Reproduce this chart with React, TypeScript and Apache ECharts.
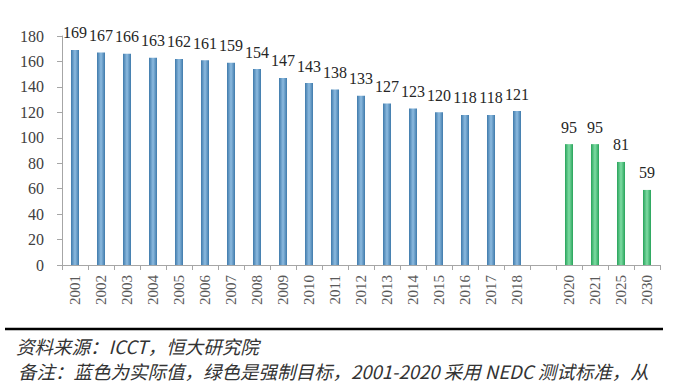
import React, { useEffect, useRef } from "react";
import * as echarts from "echarts";

const actualYears = ["2001","2002","2003","2004","2005","2006","2007","2008","2009","2010","2011","2012","2013","2014","2015","2016","2017","2018"];
const actualValues = [169,167,166,163,162,161,159,154,147,143,138,133,127,123,120,118,118,121];
const targetYears = ["2020","2021","2025","2030"];
const targetValues = [95,95,81,59];
const yTicks = { min: 0, max: 180, interval: 20 };
const sourceText = "资料来源：ICCT，恒大研究院";
const noteText = "备注：蓝色为实际值，绿色是强制目标，2001-2020 采用 NEDC 测试标准，从";

const SERIF = "'Liberation Serif', 'DejaVu Serif', serif";

const blueGrad = new echarts.graphic.LinearGradient(0, 0, 1, 0, [
  { offset: 0, color: "#3f7aab" },
  { offset: 0.5, color: "#8dbbe0" },
  { offset: 1, color: "#3f7aab" },
]);
const greenGrad = new echarts.graphic.LinearGradient(0, 0, 1, 0, [
  { offset: 0, color: "#27a35a" },
  { offset: 0.5, color: "#7fdca4" },
  { offset: 1, color: "#27a35a" },
]);

export default function App() {
  const ref = useRef<HTMLDivElement>(null);
  useEffect(() => {
    if (!ref.current) return;
    const chart = echarts.init(ref.current, null, { renderer: "svg" });
    const categories = [...actualYears, "", ...targetYears];
    const data: any[] = [
      ...actualValues.map((v) => ({ value: v, itemStyle: { color: blueGrad } })),
      { value: "-", label: { show: false } },
      ...targetValues.map((v) => ({ value: v, itemStyle: { color: greenGrad } })),
    ];
    chart.setOption({
      animation: false,
      backgroundColor: "#ffffff",
      grid: { left: 62, right: 13, top: 36, bottom: 121, containLabel: false },
      xAxis: {
        type: "category",
        data: categories,
        axisLine: { lineStyle: { color: "#a6a6a6", width: 1 } },
        axisTick: { show: true, length: 5, lineStyle: { color: "#a6a6a6" } },
        axisLabel: {
          rotate: 90,
          interval: 0,
          margin: 10,
          fontFamily: SERIF,
          fontSize: 15,
          color: "#595959",
        },
      },
      yAxis: {
        type: "value",
        min: yTicks.min,
        max: yTicks.max,
        interval: yTicks.interval,
        splitLine: { show: false },
        axisLine: { show: true, lineStyle: { color: "#a6a6a6", width: 1 } },
        axisTick: { show: true, length: 5, lineStyle: { color: "#a6a6a6" } },
        axisLabel: {
          margin: 18,
          fontFamily: SERIF,
          fontSize: 16,
          color: "#404040",
        },
      },
      series: [
        {
          type: "bar",
          data,
          barWidth: 8,
          label: {
            show: true,
            position: "top",
            distance: 9,
            fontFamily: SERIF,
            fontSize: 16,
            color: "#262626",
          },
        },
      ],
      graphic: [
        {
          type: "line",
          shape: { x1: 5, y1: 329, x2: 663, y2: 329 },
          style: { stroke: "#000000", lineWidth: 2.5 },
        },
        {
          type: "text",
          x: 16,
          y: 346,
          style: {
            text: sourceText,
            font: "italic 18.5px 'Noto Sans CJK SC'",
            fill: "#333333",
            verticalAlign: "middle",
          },
        },
        {
          type: "text",
          x: 18,
          y: 371,
          style: {
            text: noteText,
            font: "italic 18.5px 'Noto Sans CJK SC'",
            fill: "#333333",
            verticalAlign: "middle",
          },
        },
      ],
    });
    return () => chart.dispose();
  }, []);
  return <div ref={ref} style={{ width: 673, height: 386, position: "fixed", left: 0, top: 0 }} />;
}
